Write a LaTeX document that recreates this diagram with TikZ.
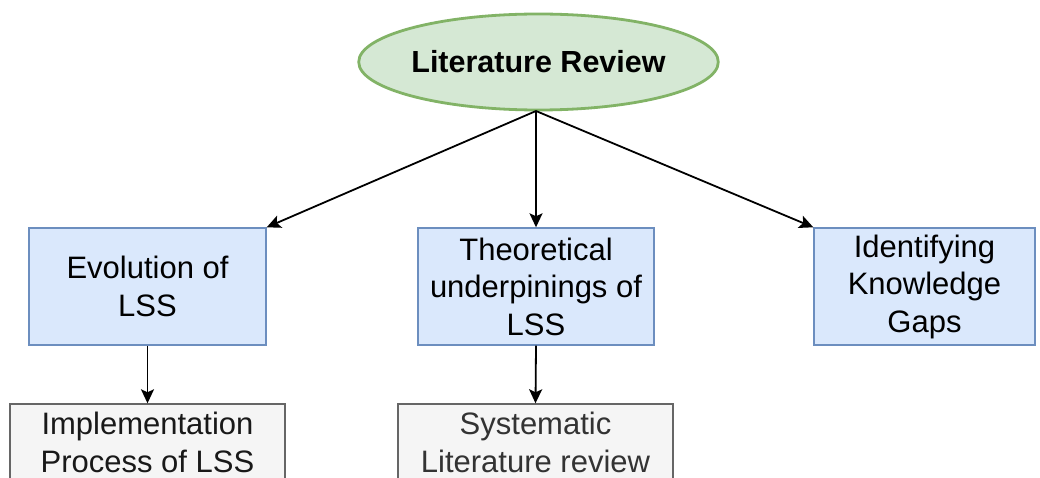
\documentclass[tikz,border=0pt]{standalone}
\usepackage{fontspec}
\setmainfont{Liberation Sans}
\usetikzlibrary{shapes.geometric,arrows.meta}
\definecolor{greenfill}{HTML}{D5E8D4}
\definecolor{greenline}{HTML}{82B366}
\definecolor{bluefill}{HTML}{DAE8FC}
\definecolor{blueline}{HTML}{6C8EBF}
\definecolor{grayfill}{HTML}{F5F5F5}
\definecolor{grayline}{HTML}{666666}
\definecolor{graytext}{HTML}{333333}
\tikzset{
  topic/.style={ellipse, draw=greenline, fill=greenfill, line width=2.8pt,
    minimum width=274pt, minimum height=96pt, inner sep=0pt,
    font=\bfseries\fontsize{30.5}{36}\selectfont},
  bluebox/.style={rectangle, draw=blueline, fill=bluefill, line width=1.4pt,
    minimum height=117pt, inner sep=0pt, align=center,
    font=\fontsize{31}{37.5}\selectfont},
  graybox/.style={rectangle, draw=grayline, fill=grayfill, line width=1.4pt,
    minimum height=76pt, inner sep=0pt, align=center,
    font=\fontsize{31}{38}\selectfont},
  link/.style={line width=1.8pt, -{Stealth[length=14pt,width=13pt,inset=3pt]}}
}
\begin{document}
\begin{tikzpicture}[x=1pt,y=-1pt]
  \useasboundingbox (0,0) rectangle (1040,478);
  \clip (0,0) rectangle (1040,478);
  \fill[white] (0,0) rectangle (1040,478);

  % top topic
  \node[topic] (lr) at (538.5,62) {Literature Review};

  % second level
  \node[bluebox, minimum width=237pt] (evo) at (147.5,286.5) {Evolution of\\LSS};
  \node[bluebox, minimum width=236pt] (theo) at (536,286.5) {Theoretical\\underpinings of\\LSS};
  \node[bluebox, minimum width=221pt] (gaps) at (924.5,286.5) {Identifying\\Knowledge\\Gaps};

  % third level (runs off the lower edge)
  \node[graybox, minimum width=275pt, text=black!90] (impl) at (147.5,442) {Implementation\\Process of LSS};
  \node[graybox, minimum width=275pt, text=graytext] (slr) at (535.5,442) {Systematic\\Literature review};

  % connectors
  \coordinate (split) at (536,111);
  \draw[link] (split) -- (evo.north east);
  \draw[link] (split) -- (theo.north);
  \draw[link] (split) -- (gaps.north west);
  \draw[link] (evo.south) -- (impl.north);
  \draw[link] (theo.south) -- (slr.north);
\end{tikzpicture}
\end{document}
